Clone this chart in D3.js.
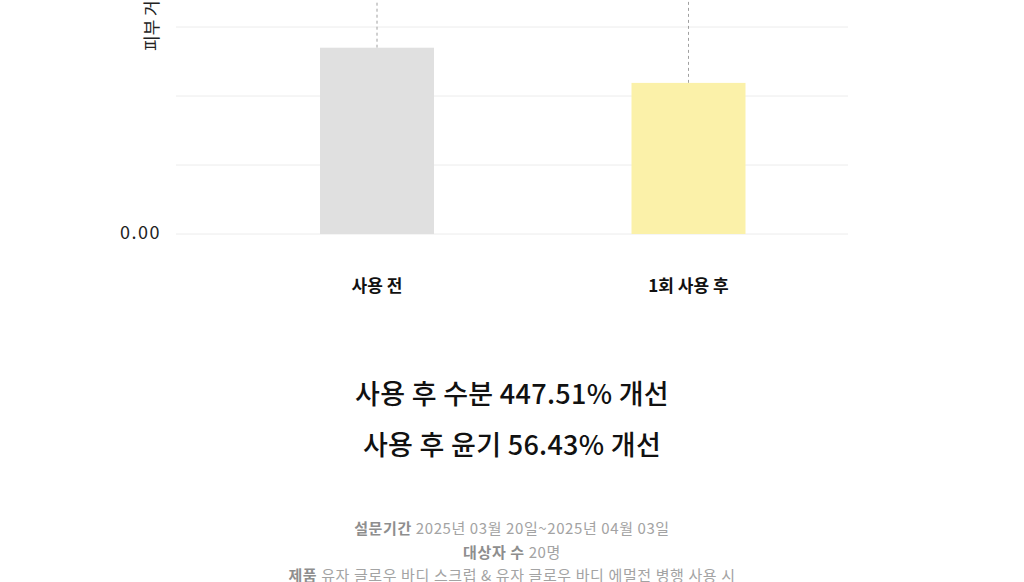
<!DOCTYPE html>
<html>
<head>
<meta charset="utf-8">
<script src="https://cdn.jsdelivr.net/npm/d3@7"></script>
<style>
  html, body { margin: 0; padding: 0; background: #fff; overflow: hidden; }
  text { font-family: "Noto Sans CJK KR", "Noto Sans", sans-serif; }
</style>
</head>
<body>
<div id="canvas"></div>
<script>
var w = 1024;
var h = 582;

// values (top of the chart is cut off in the reference)
var categories = ["사용 전", "1회 사용 후"];
var means = [2.70, 2.19];
var errUp = [1.6, 1.6];
var barColors = ["#e0e0e0", "#fbf1a9"];
var gridValues = [0, 1, 2, 3, 4];
var tickLabels = ["0.00"];
var yLabel = "피부 거칠기";

var headlines = ["사용 후 수분 447.51% 개선", "사용 후 윤기 56.43% 개선"];
var notes = [
    { bold: "설문기간", rest: " 2025년 03월 20일~2025년 04월 03일" },
    { bold: "대상자 수", rest: " 20명" },
    { bold: "제품", rest: " 유자 글로우 바디 스크럽 & 유자 글로우 바디 에멀전 병행 사용 시" }
];

var canvas = d3.select("#canvas")
    .append("svg")
    .attr("width", w)
    .attr("height", h);

var yScale = d3.scaleLinear()
    .domain([0, 4])
    .range([234, -42]);

var xScale = d3.scalePoint()
    .domain(categories)
    .range([377, 688.5]);

var barW = 114;

// grid lines
canvas.selectAll(".grid")
    .data(gridValues)
    .join("line")
    .attr("class", "grid")
    .attr("x1", 176)
    .attr("x2", 848)
    .attr("y1", function (d) { return yScale(d); })
    .attr("y2", function (d) { return yScale(d); })
    .attr("stroke", "#ececec")
    .attr("stroke-width", 1);

// y tick label(s)
canvas.selectAll(".tick")
    .data(tickLabels)
    .join("text")
    .attr("class", "tick")
    .attr("x", 161)
    .attr("y", function (d) { return yScale(+d); })
    .attr("text-anchor", "end")
    .attr("dominant-baseline", "middle")
    .attr("font-size", "18px")
    .attr("letter-spacing", "1.5px")
    .attr("fill", "#222")
    .text(function (d) { return d; });

// y axis title
canvas.append("text")
    .attr("transform", "translate(158,51) rotate(-90)")
    .attr("font-size", "17px")
    .attr("fill", "#222")
    .text(yLabel);

// error whiskers (dashed)
canvas.selectAll(".err")
    .data(categories)
    .join("line")
    .attr("class", "err")
    .attr("x1", function (d) { return xScale(d); })
    .attr("x2", function (d) { return xScale(d); })
    .attr("y1", function (d, i) { return yScale(means[i]); })
    .attr("y2", function (d, i) { return yScale(means[i] + errUp[i]); })
    .attr("stroke", "#a0a0a0")
    .attr("stroke-width", 1)
    .attr("stroke-dasharray", "3,3");

// bars
canvas.selectAll(".bar")
    .data(categories)
    .join("rect")
    .attr("class", "bar")
    .attr("x", function (d) { return xScale(d) - barW / 2; })
    .attr("y", function (d, i) { return yScale(means[i]); })
    .attr("width", barW)
    .attr("height", function (d, i) { return yScale(0) - yScale(means[i]); })
    .attr("fill", function (d, i) { return barColors[i]; });

// category labels
canvas.selectAll(".cat")
    .data(categories)
    .join("text")
    .attr("class", "cat")
    .attr("x", function (d) { return xScale(d); })
    .attr("y", 287)
    .attr("text-anchor", "middle")
    .attr("dominant-baseline", "middle")
    .attr("font-size", "17px")
    .attr("font-weight", "bold")
    .attr("fill", "#111")
    .text(function (d) { return d; });

// headline results
canvas.selectAll(".headline")
    .data(headlines)
    .join("text")
    .attr("class", "headline")
    .attr("x", w / 2)
    .attr("y", function (d, i) { return 397 + i * 51; })
    .attr("text-anchor", "middle")
    .attr("dominant-baseline", "middle")
    .attr("font-size", "27px")
    .attr("font-weight", 500)
    .attr("letter-spacing", "0.3px")
    .attr("fill", "#111")
    .text(function (d) { return d; });

// footnotes
var note = canvas.selectAll(".note")
    .data(notes)
    .join("text")
    .attr("class", "note")
    .attr("x", w / 2)
    .attr("y", function (d, i) { return 530 + i * 23.5; })
    .attr("text-anchor", "middle")
    .attr("dominant-baseline", "middle")
    .attr("font-size", "15px")
    .attr("letter-spacing", "0.6px")
    .attr("fill", "#a3a3a3");

note.append("tspan")
    .attr("font-weight", "bold")
    .attr("fill", "#8e8e8e")
    .text(function (d) { return d.bold; });

note.append("tspan")
    .text(function (d) { return d.rest; });
</script>
</body>
</html>
